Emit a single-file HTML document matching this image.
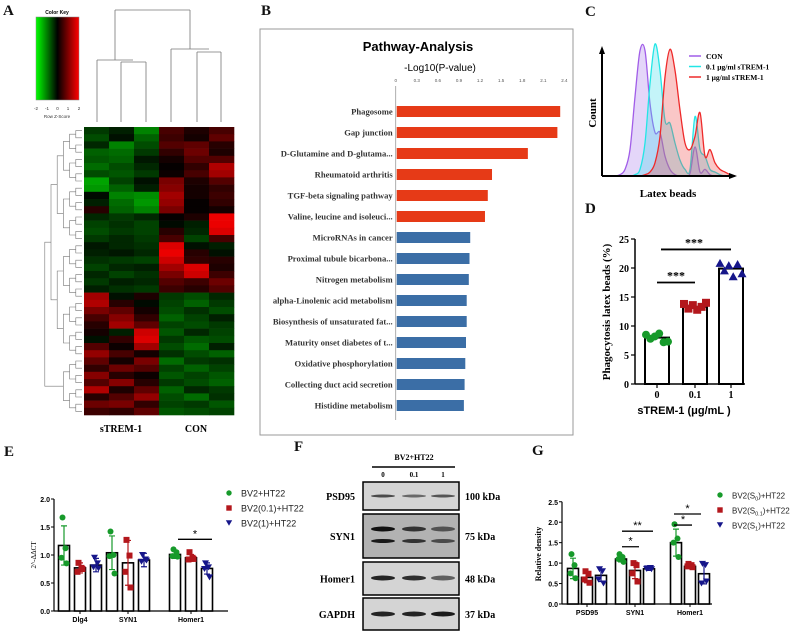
<!DOCTYPE html>
<html><head><meta charset="utf-8">
<style>
html,body{margin:0;padding:0;background:#fff;}
svg{display:block;}
.serif{font-family:"Liberation Serif",serif;}
.sans{font-family:"Liberation Sans",sans-serif;}
</style></head>
<body>
<svg id="fig" xmlns="http://www.w3.org/2000/svg" width="793" height="632" viewBox="0 0 793 632">
<g class="serif" font-weight="bold" font-size="15" fill="#111">
<text x="3" y="15">A</text>
<text x="261" y="15">B</text>
<text x="585" y="16">C</text>
<text x="585" y="213">D</text>
<text x="4" y="456">E</text>
<text x="294" y="451">F</text>
<text x="532" y="455">G</text>
</g>
<defs><linearGradient id="ck" x1="0" x2="1" y1="0" y2="0"><stop offset="0" stop-color="#00ff00"/><stop offset="0.5" stop-color="#000"/><stop offset="1" stop-color="#ff0000"/></linearGradient></defs>
<g>
<text x="57" y="14" font-size="5" text-anchor="middle" class="sans" font-weight="bold">Color Key</text>
<rect x="36" y="17" width="43" height="83" fill="url(#ck)" stroke="#888" stroke-width="0.5"/>
<g class="sans" font-size="4.5" text-anchor="middle" fill="#333">
<text x="36" y="110">-2</text><text x="47" y="110">-1</text><text x="57.5" y="110">0</text><text x="68" y="110">1</text><text x="79" y="110">2</text>
<text x="57" y="118">Row Z-Score</text></g>
</g>
<g id="heat"></g>
<g id="coldend" stroke="#777" stroke-width="0.8" fill="none"></g>
<g id="rowdend" stroke="#777" stroke-width="0.6" fill="none"></g>
<g class="serif" font-weight="bold" font-size="10">
<text x="121" y="432" text-anchor="middle">sTREM-1</text>
<text x="196" y="432" text-anchor="middle">CON</text>
</g>
<rect x="260" y="29" width="313" height="406" fill="none" stroke="#999" stroke-width="1"/>
<text x="418" y="51" text-anchor="middle" class="sans" font-weight="bold" font-size="13">Pathway-Analysis</text>
<text x="440" y="71" text-anchor="middle" class="sans" font-size="10">-Log10(P-value)</text>
<g id="pathway"></g>
<g id="hist"></g>
<g id="phago"></g>
<g id="pcr"></g>
<g id="blot"></g>
<g id="dens"></g>
</svg>
<script>
const NS='http://www.w3.org/2000/svg';
function mk(parent,tag,attrs,txt){const e=document.createElementNS(NS,tag);for(const k in attrs)e.setAttribute(k,attrs[k]);if(txt!==undefined)e.textContent=txt;parent.appendChild(e);return e;}

const heatRows=[
[-0.8,-0.5,-1.5,0.8,0.4,0.8],[-1,-0.3,-1.2,0.7,0.3,1.0],[-0.6,-1.5,-1,0.9,1.0,0.5],[-1.2,-1.3,-0.8,0.6,1.1,0.4],
[-1.1,-1.2,-0.4,0.3,0.9,0.9],[-1.3,-1.0,-0.6,0.1,0.6,1.6],[-1.0,-1.1,-0.8,0.2,0.8,1.5],[-1.8,-0.9,-0.3,1.2,0.4,0.9],
[-1.7,-1.2,-0.5,1.3,0.3,0.6],[-0.2,-1.5,-1.6,1.5,0.3,0.7],[-0.5,-1.3,-1.7,1.4,0.1,0.6],[0.5,-1.2,-1.5,1.2,0.1,0.3],
[-0.6,-0.8,-0.6,0.1,0.4,2.0],[-0.9,-0.7,-0.9,-0.2,-0.5,2.0],[-1.0,-0.8,-0.9,0.5,-0.6,1.9],[-0.8,-0.6,-0.8,0.8,-0.9,0.8],
[-0.4,-0.6,-0.7,1.9,-0.3,-0.5],[-0.5,-0.4,-0.6,2.0,0.5,-0.3],[-0.7,-0.8,-0.9,1.8,0.6,0.5],[-0.9,-0.6,-0.5,1.5,1.9,0.4],
[-0.6,-0.9,-0.7,1.2,1.8,0.7],[-0.8,-0.5,-0.6,0.9,0.7,1.1],[-0.5,-0.7,-0.8,0.7,0.5,0.9],[1.5,-0.3,0.4,-0.8,-1.0,-0.6],
[1.6,0.5,-0.2,-0.9,-1.2,-0.8],[1.2,1.0,0.3,-1.0,-0.7,-1.0],[0.8,1.3,0.6,-1.2,-0.9,-0.5],[0.5,1.5,1.0,-0.9,-1.0,-0.8],
[0.3,-0.5,1.8,-1.1,-0.6,-0.9],[-0.3,0.6,1.9,-0.8,-1.1,-1.0],[0.9,0.2,1.5,-1.0,-1.3,-0.5],[1.4,0.8,0.3,-0.7,-1.0,-1.2],
[1.0,0.3,1.2,-1.3,-0.8,-0.7],[0.6,1.1,0.9,-0.9,-1.2,-0.9],[1.3,0.5,0.2,-1.1,-0.9,-1.1],[0.9,1.3,0.5,-0.8,-1.0,-1.2],
[1.6,0.4,1.0,-1.2,-0.6,-0.8],[0.5,0.9,1.4,-1.0,-1.3,-0.7],[1.1,1.2,0.6,-0.9,-0.8,-1.1],[0.7,0.6,1.0,-1.1,-1.0,-0.9]];
const heatCols=['sTREM-1 a','sTREM-1 b','sTREM-1 c','CON a','CON b','CON c'];

const pathways=['Phagosome','Gap junction','D-Glutamine and D-glutama...','Rheumatoid arthritis','TGF-beta signaling pathway','Valine, leucine and isoleuci...','MicroRNAs in cancer','Proximal tubule bicarbona...','Nitrogen metabolism','alpha-Linolenic acid metabolism','Biosynthesis of unsaturated fat...','Maturity onset diabetes of t...','Oxidative phosphorylation','Collecting duct acid secretion','Histidine metabolism'];
const pathValues=[2.34,2.30,1.88,1.37,1.31,1.27,1.06,1.05,1.04,1.01,1.01,1.00,0.99,0.98,0.97];
const pathUp=[1,1,1,1,1,1,0,0,0,0,0,0,0,0,0];
const pathTicks=[0,0.3,0.6,0.9,1.2,1.5,1.8,2.1,2.4];

const histBins=[0,1,2,3,4,5,6,7,8,9,10,11,12,13,14,15,16,17,18,19,20,21,22,23,24];
const histCon=[0,0.01,0.05,0.2,0.6,0.95,0.95,0.55,0.33,0.33,0.15,0.05,0.01,0,0,0.02,0.22,0.03,0.05,0.01,0,0,0,0,0];
const histLow=[0,0,0,0,0.01,0.05,0.25,0.7,1.0,0.8,0.42,0.4,0.25,0.12,0.05,0.05,0.45,0.2,0.15,0.05,0.03,0.01,0,0,0];
const histHigh=[0,0,0,0,0,0,0.01,0.03,0.1,0.3,0.75,0.96,0.8,0.5,0.25,0.2,0.3,0.48,0.15,0.2,0.1,0.05,0.03,0.01,0];

const phagoCats=['0','0.1','1'];
const phagoMeans=[8.0,13.3,19.9];
const phagoPts=[[8.5,7.8,8.2,8.7,7.2,7.3],[13.8,13.0,13.6,12.8,13.3,14.0],[20.8,19.5,20.4,18.5,20.6,19.0]];
const phagoTicks=[0,5,10,15,20,25];

const pcrGenes=['Dlg4','SYN1','Homer1'];
const pcrSeries=['BV2+HT22','BV2(0.1)+HT22','BV2(1)+HT22'];
const pcrMeans=[[1.17,0.77,0.82],[1.04,0.86,0.91],[1.01,0.95,0.76]];
const pcrSD=[[0.35,0.09,0.12],[0.30,0.40,0.12],[0.07,0.06,0.10]];
const pcrPts=[[[1.67,1.12,0.95,0.85],[0.86,0.77,0.70,0.75],[0.95,0.85,0.78,0.76]],[[1.42,1.0,0.98,0.67],[1.27,0.99,0.70,0.42],[1.0,0.92,0.88,0.9]],[[1.1,1.05,0.98,0.97],[1.05,0.95,0.92,0.93],[0.85,0.78,0.75,0.6]]];
const pcrTicks=[0,0.5,1.0,1.5,2.0];

const densProteins=['PSD95','SYN1','Homer1'];
const densMeans=[[0.87,0.65,0.70],[1.10,0.82,0.86],[1.50,0.92,0.74]];
const densSD=[[0.25,0.13,0.15],[0.07,0.20,0.04],[0.33,0.04,0.25]];
const densPts=[[[1.22,0.95,0.75,0.63],[0.8,0.74,0.6,0.52],[0.85,0.8,0.6,0.5]],[[1.22,1.15,1.1,1.03],[1.0,0.95,0.75,0.55],[0.87,0.88,0.86,0.85]],[[1.95,1.6,1.5,1.15],[0.98,0.95,0.92,0.9],[0.98,0.95,0.5,0.55]]];
const densTicks=[0,0.5,1.0,1.5,2.0,2.5];

const GREEN='#179a2b',RED='#b3171c',BLUE='#16168a';
const serCol=[GREEN,RED,BLUE];

(function(){
const g=document.getElementById('heat');
const x0=84,y0=127,cw=25,rh=(415-127)/heatRows.length;
function col(z){z=Math.max(-2,Math.min(2,z));const v=Math.round(Math.pow(Math.abs(z)/2,1.3)*235);return z>=0?`rgb(${v},0,0)`:`rgb(0,${Math.round(v*0.8)},0)`;}
heatRows.forEach((row,i)=>{row.forEach((z,j)=>{
 const r=mk(g,'rect',{x:x0+j*cw,y:y0+i*rh,width:cw+0.3,height:rh+0.3,fill:col(z)});
 
 
});});
const cd=document.getElementById('coldend');
const lines=[[97,122,97,60],[121,122,121,62],[146,122,146,62],[121,62,146,62],[97,60,133,60],[171,122,171,49],[197,122,197,52],[221,122,221,52],[197,52,221,52],[171,49,209,49],[115,60,115,10],[190,49,190,10],[115,10,190,10]];
lines.forEach(l=>mk(cd,'line',{x1:l[0],y1:l[1],x2:l[2],y2:l[3]}));
const rd=document.getElementById('rowdend');
let nodes=heatRows.map((r,i)=>({y:y0+(i+0.5)*rh,x:82}));
let lvl=0;
while(nodes.length>1){
 const nx=[];lvl++;
 for(let i=0;i<nodes.length;i+=2){
  if(i+1>=nodes.length){nx.push(nodes[i]);continue;}
  const a=nodes[i],b=nodes[i+1];const x=82-lvl*6.2;
  mk(rd,'path',{d:`M${a.x},${a.y}H${x}V${b.y}H${b.x}`});
  nx.push({x:x,y:(a.y+b.y)/2});
 }
 nodes=nx;
}
})();

(function(){
const g=document.getElementById('pathway');
const x0=395.7,pxPer=70.3,yTop=106,step=21.0,bh=11;
const xs=v=>x0+v*pxPer;
mk(g,'line',{x1:x0,y1:86,x2:x0,y2:420,stroke:'#999','stroke-width':0.8});
pathTicks.forEach(t=>{const tx=mk(g,'text',{x:xs(t),y:82,'font-size':4.5,'text-anchor':'middle',fill:'#555',class:'sans'},String(t));
 
 
});
pathways.forEach((p,i)=>{
 const y=yTop+i*step;
 const b=mk(g,'rect',{x:x0+1,y:y,width:xs(pathValues[i])-x0-1,height:bh,fill:pathUp[i]?'#e63a17':'#3b6ea6'});
 
 
 const t=mk(g,'text',{x:x0-3,y:y+bh/2+3.2,'font-size':8.6,'text-anchor':'end','font-weight':'bold',fill:'#333',class:'serif'},p);
 
 
});
})();

(function(){
const g=document.getElementById('hist');
const xs=b=>615+b*5,base=176,hgt=132;
const ys=v=>base-v*hgt;
function path(vals){let pts=histBins.map((b,i)=>[xs(b),ys(vals[i])]);let d=`M${pts[0][0]},${pts[0][1]}`;
 for(let i=0;i<pts.length-1;i++){const p0=pts[Math.max(0,i-1)],p1=pts[i],p2=pts[i+1],p3=pts[Math.min(pts.length-1,i+2)];
 d+=` C${p1[0]+(p2[0]-p0[0])/6},${p1[1]+(p2[1]-p0[1])/6} ${p2[0]-(p3[0]-p1[0])/6},${p2[1]-(p3[1]-p1[1])/6} ${p2[0]},${p2[1]}`;}
 return d;}
const series=[[histCon,'#a15de8','rgba(165,120,235,0.3)','histogram-con'],[histLow,'#22e6e6','rgba(60,220,235,0.3)','histogram-0.1'],[histHigh,'#ee2a2a','rgba(240,70,70,0.3)','histogram-1']];
series.forEach(s=>{
 const d=path(s[0]);
 const f=mk(g,'path',{d:d+` L${xs(24)},${base} L${xs(0)},${base} Z`,fill:s[2],stroke:'none'});
 
 
 const l=mk(g,'path',{d:d,fill:'none',stroke:s[1],'stroke-width':1.3});
 
 
});
mk(g,'path',{d:'M602,176 H733',stroke:'#000','stroke-width':2});
mk(g,'path',{d:'M729,173 L737,176 L729,179 Z',fill:'#000'});
mk(g,'path',{d:'M602,176 V50',stroke:'#000','stroke-width':2});
mk(g,'path',{d:'M599,54 L602,46 L605,54 Z',fill:'#000'});
const yt=mk(g,'text',{x:0,y:0,transform:'translate(596,113) rotate(-90)','text-anchor':'middle','font-size':11,'font-weight':'bold',class:'serif'},'Count');


const xt=mk(g,'text',{x:668,y:197,'text-anchor':'middle','font-size':11,'font-weight':'bold',class:'serif'},'Latex beads');


const leg=[['CON','#a15de8'],['0.1 μg/ml sTREM-1','#22e6e6'],['1 μg/ml sTREM-1','#ee2a2a']];
leg.forEach((L,i)=>{const y=59+i*10.5;
 const ln=mk(g,'line',{x1:689,y1:y-3,x2:701,y2:y-3,stroke:L[1],'stroke-width':1.5});
 
 
 const t=mk(g,'text',{x:706,y:y,'font-size':7.5,'font-weight':'bold',class:'serif'},L[0]);
 
 
});
})();

(function(){
const g=document.getElementById('phago');
const xAx=635,y0=384,pu=5.8;const ys=v=>y0-v*pu;const xc=[657,695,731];
mk(g,'line',{x1:xAx,y1:ys(25),x2:xAx,y2:y0,stroke:'#000','stroke-width':1.5});
mk(g,'line',{x1:xAx,y1:y0,x2:745,y2:y0,stroke:'#000','stroke-width':1.5});
phagoTicks.forEach(t=>{mk(g,'line',{x1:xAx-4,y1:ys(t),x2:xAx,y2:ys(t),stroke:'#000','stroke-width':1.2});
 const tx=mk(g,'text',{x:xAx-6,y:ys(t)+4,'text-anchor':'end','font-size':10,'font-weight':'bold',class:'serif'},String(t));
 
 
});
const mk2=[(x,y)=>mk(g,'circle',{cx:x,cy:y,r:4,fill:GREEN}),(x,y)=>mk(g,'rect',{x:x-4,y:y-4,width:8,height:8,fill:RED}),(x,y)=>mk(g,'path',{d:`M${x},${y-4.5} L${x+4.5},${y+3.5} L${x-4.5},${y+3.5} Z`,fill:BLUE})];
phagoCats.forEach((c,i)=>{
 const b=mk(g,'rect',{x:xc[i]-12,y:ys(phagoMeans[i]),width:24,height:y0-ys(phagoMeans[i]),fill:'#fff',stroke:'#000','stroke-width':2});
 
 
 phagoPts[i].forEach((v,k)=>{const p=mk2[i](xc[i]-11+k*4.4,ys(v));
  
  });
 mk(g,'line',{x1:xc[i],y1:y0,x2:xc[i],y2:y0+4,stroke:'#000','stroke-width':1.2});
 const t=mk(g,'text',{x:xc[i],y:y0+14,'text-anchor':'middle','font-size':10,'font-weight':'bold',class:'serif'},c);
 
 
});
mk(g,'line',{x1:xc[0],y1:ys(17.5),x2:xc[1],y2:ys(17.5),stroke:'#000','stroke-width':1.8});
mk(g,'text',{x:(xc[0]+xc[1])/2,y:ys(17.5)-3,'text-anchor':'middle','font-size':12,'font-weight':'bold',class:'serif'},'***');
mk(g,'line',{x1:xc[0]+4,y1:ys(23.2),x2:xc[2],y2:ys(23.2),stroke:'#000','stroke-width':1.8});
mk(g,'text',{x:(xc[0]+xc[2])/2,y:ys(23.2)-3,'text-anchor':'middle','font-size':12,'font-weight':'bold',class:'serif'},'***');
const yt=mk(g,'text',{x:0,y:0,transform:'translate(610,312) rotate(-90)','text-anchor':'middle','font-size':11,'font-weight':'bold',class:'serif'},'Phagocytosis latex beads (%)');


const xt=mk(g,'text',{x:684,y:414,'text-anchor':'middle','font-size':11,'font-weight':'bold',class:'sans'},'sTREM-1 (μg/mL )');


})();

function grouped(g,o){
 const ys=v=>o.y0-v*o.pu;
 mk(g,'line',{x1:o.xAx,y1:ys(o.ticks[o.ticks.length-1]),x2:o.xAx,y2:o.y0,stroke:'#000','stroke-width':1.2});
 mk(g,'line',{x1:o.xAx,y1:o.y0,x2:o.xEnd,y2:o.y0,stroke:'#000','stroke-width':1.2});
 o.ticks.forEach(t=>{mk(g,'line',{x1:o.xAx-3,y1:ys(t),x2:o.xAx,y2:ys(t),stroke:'#000'});
  const tx=mk(g,'text',{x:o.xAx-4,y:ys(t)+3,'text-anchor':'end','font-size':7,'font-weight':'bold',class:'sans'},t.toFixed(1));
  
  
 });
 o.cats.forEach((c,i)=>{
  const cx=o.gx[i];
  mk(g,'line',{x1:cx,y1:o.y0,x2:cx,y2:o.y0+3,stroke:'#000'});
  const tl=mk(g,'text',{x:cx,y:o.y0+11,'text-anchor':'middle','font-size':7,'font-weight':'bold',class:'sans'},c);
  
  
  [0,1,2].forEach(s=>{
   const bx=cx+(s-1)*o.off,m=o.means[i][s],sd=o.sd[i][s];
   const b=mk(g,'rect',{x:bx-o.bw/2,y:ys(m),width:o.bw,height:o.y0-ys(m),fill:'#fff',stroke:'#000','stroke-width':1.6});
   
   
   mk(g,'path',{d:`M${bx},${ys(m-sd)}V${ys(m+sd)}M${bx-3},${ys(m+sd)}H${bx+3}M${bx-3},${ys(m-sd)}H${bx+3}`,stroke:serCol[s],'stroke-width':1.2,fill:'none'});
   o.pts[i][s].forEach((v,k)=>{const px=bx+(k%2?2.5:-2.5)*(k>1?1:0.6);
    const p=marker(g,s,px,ys(v),o.ms);
    
    });
  });
 });
 o.series.forEach((sName,s)=>{const y=o.ly+s*o.lstep;
  const p=marker(g,s,o.lx,y,o.ms*0.9);
  
  
  const t=mk(g,'text',{x:o.lx+12,y:y+3.5,'font-size':o.lfs,class:'sans',fill:'#222'});
  t.innerHTML=sName;
  
  
 });
 o.sig.forEach(sg=>{mk(g,'line',{x1:sg[0],y1:ys(sg[2]),x2:sg[1],y2:ys(sg[2]),stroke:'#000','stroke-width':1.3});
  mk(g,'text',{x:(sg[0]+sg[1])/2,y:ys(sg[2])-2,'text-anchor':'middle','font-size':11,class:'sans'},sg[3]);});
}
function marker(g,s,x,y,r){
 if(s===0)return mk(g,'circle',{cx:x,cy:y,r:r,fill:GREEN});
 if(s===1)return mk(g,'rect',{x:x-r,y:y-r,width:2*r,height:2*r,fill:RED});
 return mk(g,'path',{d:`M${x-r-0.5},${y-r} L${x+r+0.5},${y-r} L${x},${y+r} Z`,fill:BLUE});
}
grouped(document.getElementById('pcr'),{name:'qpcr',xAx:54,y0:611,pu:56,xEnd:228,ticks:pcrTicks,cats:pcrGenes,gx:[80,128,191],off:16,bw:11,means:pcrMeans,sd:pcrSD,pts:pcrPts,series:pcrSeries,lx:229,ly:493,lstep:15,ms:3,lfs:9,sig:[[178,212,1.28,'*']]});
(function(){const t=mk(document.getElementById('pcr'),'text',{x:0,y:0,transform:'translate(36,555) rotate(-90)','text-anchor':'middle','font-size':7,class:'serif'},'2^-ΔΔCT');

})();
grouped(document.getElementById('dens'),{name:'density',xAx:562,y0:604,pu:40.9,xEnd:712,ticks:densTicks,cats:densProteins,gx:[587,635,690],off:14,bw:11,means:densMeans,sd:densSD,pts:densPts,series:['BV2(S<tspan font-size="5.5" dy="2">0</tspan><tspan dy="-2">)+HT22</tspan>','BV2(S<tspan font-size="5.5" dy="2">0.1</tspan><tspan dy="-2">)+HT22</tspan>','BV2(S<tspan font-size="5.5" dy="2">1</tspan><tspan dy="-2">)+HT22</tspan>'],lx:720,ly:495,lstep:15,ms:3,lfs:8,sig:[[622,639,1.4,'*'],[622,653,1.78,'**'],[674,692,1.93,'*'],[674,701,2.2,'*']]});
(function(){const t=mk(document.getElementById('dens'),'text',{x:0,y:0,transform:'translate(541,554) rotate(-90)','text-anchor':'middle','font-size':8,'font-weight':'bold',class:'serif'},'Relative density');

})();

(function(){
const g=document.getElementById('blot');
mk(g,'text',{x:414,y:460,'text-anchor':'middle','font-size':8,'font-weight':'bold',class:'serif'},'BV2+HT22');
mk(g,'line',{x1:372,y1:467,x2:455,y2:467,stroke:'#000','stroke-width':1.5});
const lanes=[['0',383],['0.1',414],['1',443]];
lanes.forEach(l=>{const t=mk(g,'text',{x:l[1],y:477,'text-anchor':'middle','font-size':7,'font-weight':'bold',class:'serif'},l[0]);
 
 });
const blots=[['PSD95','100 kDa',482,510,[[496,2,0.7,0.55,0.65]]],['SYN1','75 kDa',514,558,[[529,4,1,0.8,0.6],[541,3,0.95,0.8,0.65]]],['Homer1','48 kDa',562,595,[[578,4,0.9,0.85,0.6]]],['GAPDH','37 kDa',598,630,[[614,4,0.9,0.9,0.95]]]];
blots.forEach(b=>{
 const r=mk(g,'rect',{x:363,y:b[2],width:96,height:b[3]-b[2],fill:b[0]==='SYN1'?'#b2b2b2':'#d4d4d4',stroke:'#000','stroke-width':1.5});
 
 
 b[4].forEach(band=>{[0,1,2].forEach(k=>{mk(g,'ellipse',{cx:lanes[k][1],cy:band[0],rx:12,ry:band[1]/2+0.5,fill:'#111','fill-opacity':band[2+k]});});});
 const l=mk(g,'text',{x:355,y:(b[2]+b[3])/2+4,'text-anchor':'end','font-size':10,'font-weight':'bold',class:'serif'},b[0]);
 
 
 const k=mk(g,'text',{x:465,y:(b[2]+b[3])/2+4,'font-size':10,'font-weight':'bold',class:'serif'},b[1]);
 
 
});
})();
</script>
</body></html>
